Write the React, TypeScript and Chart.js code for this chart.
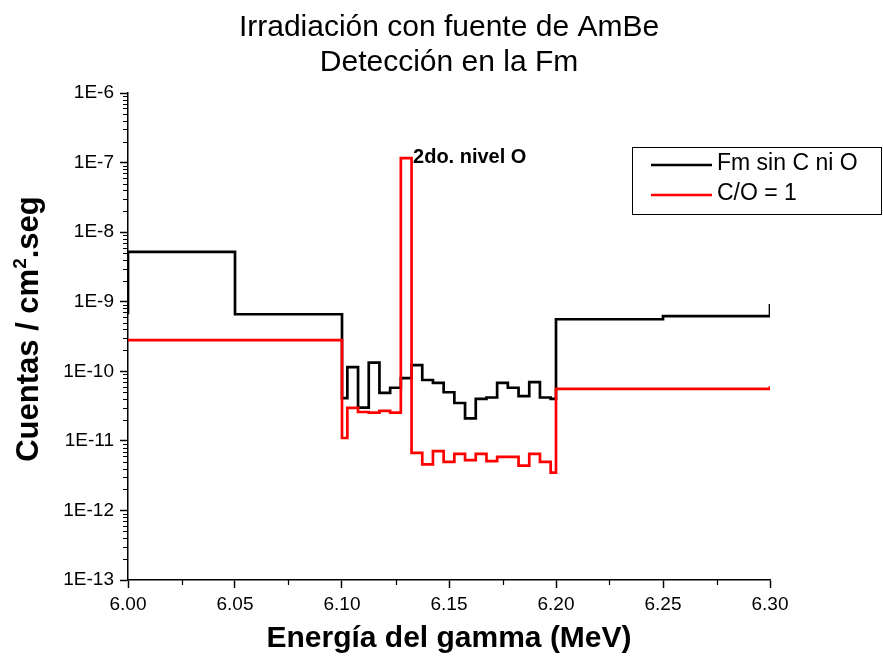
import React, { useEffect, useRef } from 'react';
import { Chart, registerables } from 'chart.js';

Chart.register(...registerables);

const FONT = '"Liberation Sans", Arial, Helvetica, sans-serif';

// Bin edges (MeV) and counts for "Fm sin C ni O" (step held until next edge)
const energyBlack = [
  6.0, 6.0, 6.05, 6.1,
  6.1025, 6.1075, 6.1125, 6.1175, 6.1225, 6.1275, 6.1325, 6.1375, 6.1425, 6.1475,
  6.1525, 6.1575, 6.1625, 6.1675, 6.1725, 6.1775, 6.1825, 6.1875, 6.1925, 6.1975,
  6.2, 6.25, 6.3,
];
const countsBlack = [
  6.6e-10, 5.2e-9, 6.6e-10, 4.1e-11,
  1.15e-10, 3.0e-11, 1.33e-10, 4.9e-11, 5.8e-11, 8.0e-11, 1.23e-10, 7.5e-11, 6.8e-11, 5.0e-11,
  3.5e-11, 2.1e-11, 4.0e-11, 4.2e-11, 6.8e-11, 5.8e-11, 4.4e-11, 7.0e-11, 4.2e-11, 4.0e-11,
  5.6e-10, 6.2e-10, 9.3e-10,
];

// Bin edges (MeV) and counts for "C/O = 1"
const energyRed = [
  6.0, 6.1,
  6.1025, 6.1075, 6.1125, 6.1175, 6.1225, 6.1275, 6.1325, 6.1375, 6.1425, 6.1475,
  6.1525, 6.1575, 6.1625, 6.1675, 6.1725, 6.1775, 6.1825, 6.1875, 6.1925, 6.1975,
  6.2, 6.3,
];
const countsRed = [
  2.8e-10, 1.1e-11,
  2.97e-11, 2.6e-11, 2.55e-11, 2.7e-11, 2.55e-11, 1.16e-7, 6.7e-12, 4.6e-12, 7.1e-12, 5.0e-12,
  6.5e-12, 5.3e-12, 6.5e-12, 5.1e-12, 5.9e-12, 5.9e-12, 4.4e-12, 6.5e-12, 5.0e-12, 3.5e-12,
  5.6e-11, 6.1e-11,
];

const xTickValues = [6.0, 6.05, 6.1, 6.15, 6.2, 6.25, 6.3];
const xTickLabels = ['6.00', '6.05', '6.10', '6.15', '6.20', '6.25', '6.30'];
const yTickValues = [1e-13, 1e-12, 1e-11, 1e-10, 1e-9, 1e-8, 1e-7, 1e-6];
const yTickLabels = ['1E-13', '1E-12', '1E-11', '1E-10', '1E-9', '1E-8', '1E-7', '1E-6'];

const titleLines = ['Irradiación con fuente de AmBe', 'Detección en la Fm'];
const seriesNames = ['Fm sin C ni O', 'C/O = 1'];
const seriesColors = ['#000000', '#ff0000'];
const annotationText = '2do. nivel O';
const annotationAt = { x: 6.1332, y: 1e-7 };
const xTitle = 'Energía del gamma (MeV)';
const yTitleParts = ['Cuentas / cm', '2', '.seg'];

const decorPlugin = {
  id: 'decor',
  afterDraw(chart: any) {
    const ctx = chart.ctx as CanvasRenderingContext2D;
    const ca = chart.chartArea;
    const xs = chart.scales.x;
    const ys = chart.scales.y;
    ctx.save();
    ctx.fillStyle = '#000';
    // Title
    ctx.font = `30px ${FONT}`;
    ctx.textAlign = 'center';
    ctx.textBaseline = 'alphabetic';
    const cx = (ca.left + ca.right) / 2;
    ctx.fillText(titleLines[0], cx, 36);
    ctx.fillText(titleLines[1], cx, 71);

    // Y axis title (rotated, with superscript)
    const big = `bold 31px ${FONT}`;
    const small = `bold 19px ${FONT}`;
    ctx.font = big;
    const w1 = ctx.measureText(yTitleParts[0]).width;
    const w3 = ctx.measureText(yTitleParts[2]).width;
    ctx.font = small;
    const w2 = ctx.measureText(yTitleParts[1]).width;
    const total = w1 + w2 + w3;
    ctx.save();
    ctx.translate(38, 329);
    ctx.rotate(-Math.PI / 2);
    ctx.textAlign = 'left';
    ctx.textBaseline = 'alphabetic';
    let px0 = -total / 2;
    ctx.font = big;
    ctx.fillText(yTitleParts[0], px0, 0);
    px0 += w1;
    ctx.font = small;
    ctx.fillText(yTitleParts[1], px0, -12);
    px0 += w2;
    ctx.font = big;
    ctx.fillText(yTitleParts[2], px0, 0);
    ctx.restore();

    // Minor ticks
    ctx.strokeStyle = '#000';
    ctx.lineWidth = 1.2;
    ctx.beginPath();
    for (let i = 0; i < xTickValues.length - 1; i++) {
      const v = (xTickValues[i] + xTickValues[i + 1]) / 2;
      const px = Math.round(xs.getPixelForValue(v)) + 0.5;
      ctx.moveTo(px, ca.bottom);
      ctx.lineTo(px, ca.bottom + 5);
    }
    for (let i = 0; i < yTickValues.length - 1; i++) {
      for (let m = 2; m <= 9; m++) {
        const py = Math.round(ys.getPixelForValue(yTickValues[i] * m)) + 0.5;
        ctx.moveTo(ca.left - 5, py);
        ctx.lineTo(ca.left, py);
      }
    }
    ctx.stroke();

    // Annotation
    ctx.font = `bold 20px ${FONT}`;
    ctx.textAlign = 'left';
    ctx.textBaseline = 'alphabetic';
    ctx.fillText(annotationText, xs.getPixelForValue(annotationAt.x), ys.getPixelForValue(annotationAt.y));

    // Legend
    const lx = 632, ly = 147, lw = 249, lh = 67;
    ctx.lineWidth = 1;
    ctx.strokeStyle = '#000';
    ctx.strokeRect(lx + 0.5, ly + 0.5, lw, lh);
    ctx.font = `23px ${FONT}`;
    ctx.textBaseline = 'middle';
    const rows = [165, 195];
    for (let i = 0; i < seriesNames.length; i++) {
      ctx.strokeStyle = seriesColors[i];
      ctx.lineWidth = 2.5;
      ctx.beginPath();
      ctx.moveTo(651, rows[i]);
      ctx.lineTo(712, rows[i]);
      ctx.stroke();
      ctx.fillStyle = '#000';
      ctx.fillText(seriesNames[i], 717, rows[i] - 1);
    }
    ctx.restore();
  },
};

export default function App() {
  const ref = useRef<HTMLCanvasElement | null>(null);
  useEffect(() => {
    if (!ref.current) return;
    const chart = new Chart(ref.current, {
      type: 'line',
      data: {
        datasets: [
          {
            label: seriesNames[0],
            data: energyBlack.map((e, i) => ({ x: e, y: countsBlack[i] })),
            borderColor: seriesColors[0],
            backgroundColor: seriesColors[0],
            borderWidth: 2.7,
            stepped: true,
            pointRadius: 0,
            fill: false,
            order: 1,
          },
          {
            label: seriesNames[1],
            data: energyRed.map((e, i) => ({ x: e, y: countsRed[i] })),
            borderColor: seriesColors[1],
            backgroundColor: seriesColors[1],
            borderWidth: 2.7,
            stepped: true,
            pointRadius: 0,
            fill: false,
            order: 0,
          },
        ],
      },
      options: {
        animation: false,
        responsive: true,
        maintainAspectRatio: false,
        layout: { padding: { top: 93, right: 113, left: 0, bottom: 0 } },
        plugins: {
          legend: { display: false },
          title: { display: false },
          tooltip: { enabled: false },
        },
        scales: {
          x: {
            type: 'linear',
            min: 6.0,
            max: 6.3,
            afterBuildTicks: (s: any) => {
              s.ticks = xTickValues.map((v) => ({ value: v }));
            },
            afterFit: (s: any) => {
              s.height = 86;
            },
            ticks: {
              autoSkip: false,
              maxRotation: 0,
              color: '#000',
              padding: 5,
              font: { size: 19, family: FONT },
              callback: (_v: any, i: number) => xTickLabels[i],
            },
            grid: {
              display: true,
              drawOnChartArea: false,
              drawTicks: true,
              tickLength: 8,
              tickColor: '#000',
              tickWidth: 1.5,
            },
            border: { display: true, color: '#000', width: 1.5 },
            title: {
              display: true,
              text: xTitle,
              color: '#000',
              font: { size: 30, weight: 'bold', family: FONT },
              padding: { top: 0, bottom: 9 },
            },
          },
          y: {
            type: 'logarithmic',
            min: 1e-13,
            max: 1e-6,
            afterBuildTicks: (s: any) => {
              s.ticks = yTickValues.map((v) => ({ value: v }));
            },
            afterFit: (s: any) => {
              s.width = 128;
            },
            ticks: {
              autoSkip: false,
              color: '#000',
              padding: 6,
              font: { size: 19, family: FONT },
              callback: (_v: any, i: number) => yTickLabels[i],
            },
            grid: {
              display: true,
              drawOnChartArea: false,
              drawTicks: true,
              tickLength: 8,
              tickColor: '#000',
              tickWidth: 1.5,
            },
            border: { display: true, color: '#000', width: 1.5 },
            title: { display: false },
          },
        },
      } as any,
      plugins: [decorPlugin],
    });
    return () => chart.destroy();
  }, []);

  return (
    <div style={{ position: 'fixed', left: 0, top: 0, width: 883, height: 666, background: '#fff' }}>
      <canvas ref={ref} />
    </div>
  );
}
